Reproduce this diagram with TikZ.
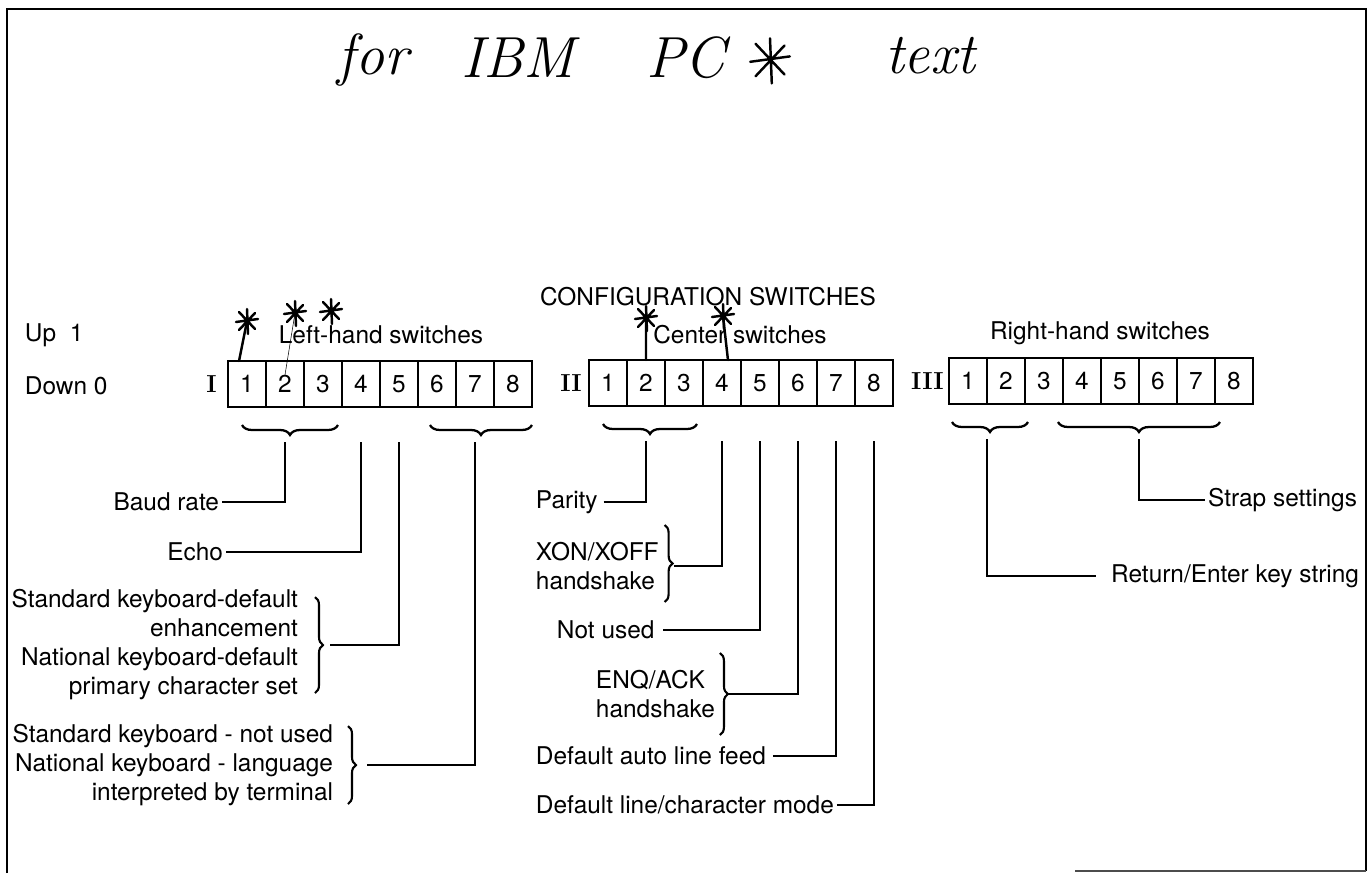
\documentclass[tikz,border=0pt]{standalone}
\usepackage{fontspec}
\setsansfont{TeX Gyre Heros}
\usepackage{tikz}
\usetikzlibrary{positioning,calc,decorations.pathreplacing}
\newcommand{\lblfont}{\sffamily\fontsize{13.9}{16.5}\selectfont}
\newcommand{\handfont}{\rmfamily\itshape\fontsize{33}{33}\selectfont}
\newcommand{\romfont}{\rmfamily\bfseries\fontsize{14}{14}\selectfont}

\begin{document}
\begin{tikzpicture}[
    x=0.02cm, y=-0.02cm,
    lbl/.style={font=\lblfont, inner xsep=1.5pt, inner ysep=0pt},
    sw/.style={draw, line width=0.8pt, minimum width=0.76cm, minimum height=0.92cm, inner sep=0pt, outer sep=0pt, font=\lblfont},
    rom/.style={font=\romfont, inner sep=0pt},
    lead/.style={line width=0.7pt},
    hbrace/.style={decorate, decoration={brace, amplitude=0.2cm}, line width=1.3pt},
    vbrace/.style={decorate, decoration={brace, amplitude=0.16cm}, line width=1.2pt},
    ink/.style={line width=1.4pt, line cap=round},
    hstar/.pic={\draw[ink] (-11,1) -- (11,-2) (0,-12) -- (1,13) (-8,-9) -- (8,8) (-8,9) -- (8,-8);}
]
    \useasboundingbox (0,0) rectangle (1370,873);
    \draw[line width=1.5pt] (7,873) -- (7,9) -- (1366,9) -- (1366,871);
    \draw[line width=1pt, black!70] (1366,871) -- (1075,871);

    % handwritten note
    \node[font=\handfont] (hfor) at (373,60) {for};
    \node[font=\handfont] (hibm) at (518,58) {IBM};
    \node[font=\handfont] (hpc) at (686,58) {PC};
    \coordinate (hstar) at (770,60);
    \pic[scale=1.8] at (hstar) {hstar};
    \node[font=\handfont] (htext) at (930,56) {text};

    % switch rows
    \node[sw] (L1) at (247,384) {1};
    \foreach \i [remember=\i as \j (initially 1)] in {2,...,8}
        \node[sw, right=0pt of L\j] (L\i) {\i};
    \node[sw] (C1) at (608,383) {1};
    \foreach \i [remember=\i as \j (initially 1)] in {2,...,8}
        \node[sw, right=0pt of C\j] (C\i) {\i};
    \node[sw] (R1) at (968,381) {1};
    \foreach \i [remember=\i as \j (initially 1)] in {2,...,8}
        \node[sw, right=0pt of R\j] (R\i) {\i};

    \node[rom, left=0.22cm of L1] (rI) {I};
    \node[rom, left=0.14cm of C1] (rII) {II};
    \node[rom, left=0.1cm of R1] (rIII) {III};

    \node[lbl] (cfg) at (708,297) {CONFIGURATION SWITCHES};
    \node[lbl] (lhs) at (381,335) {Left-hand switches};
    \node[lbl] (chs) at (740,335) {Center switches};
    \node[lbl] (rhs) at (1100,333) {Right-hand switches};
    \node[lbl, anchor=west] (up) at (22,335) {Up\ \ 1};
    \node[lbl, anchor=west] (down) at (22,386) {Down 0};

    % handwritten marks
    \coordinate (st1) at (247,321);
    \coordinate (st2) at (295,313);
    \coordinate (st3) at (331,311);
    \coordinate (st4) at (646,318);
    \coordinate (st5) at (723,316);
    \foreach \s in {st1,st2,st3,st4,st5}
        \pic at (\s) {hstar};
    \draw[ink] (st1) -- ([xshift=-0.16cm]L1.north);
    \draw[line width=0.3pt] (st2) -- ([yshift=-0.28cm]L2.north);
    \draw[ink] (st4) -- (C2.north);
    \draw[ink] (st5) -- ([xshift=0.12cm]C4.north);

    % brace tips
    \coordinate (tL13) at ($(L2.south)+(0,35)$);
    \coordinate (tL4) at ($(L4.south)+(0,35)$);
    \coordinate (tL5) at ($(L5.south)+(0,35)$);
    \coordinate (tL68) at ($(L7.south)+(0,35)$);
    \coordinate (tC13) at ($(C2.south)+(0,35)$);
    \foreach \i in {4,...,8}
        \coordinate (tC\i) at ($(C\i.south)+(0,35)$);
    \coordinate (tR12) at ($(R1.south)!0.5!(R2.south)+(0,35)$);
    \coordinate (tR47) at ($(R5.south)!0.5!(R6.south)+(0,35)$);

    \draw[hbrace] ($(L3.south east)+(-4,18)$) -- ($(L1.south west)+(14,18)$);
    \draw[hbrace] ($(L8.south east)+(0,18)$) -- ($(L6.south west)+(12,18)$);
    \draw[hbrace] ($(C3.south east)+(-6,18)$) -- ($(C1.south west)+(14,18)$);
    \draw[hbrace] ($(R2.south east)+(3,18)$) -- ($(R1.south west)+(3,18)$);
    \draw[hbrace] ($(R7.south east)+(5,18)$) -- ($(R4.south west)+(-5,18)$);

    % left-hand labels
    \node[lbl, anchor=east] (baud) at (222,502) {Baud rate};
    \node[lbl, anchor=east] (echo) at (226,552) {Echo};
    \node[lbl, anchor=east, align=right] (stdkbd) at (301,645) {Standard keyboard-default\\enhancement\\National keyboard-default\\primary character set};
    \node[lbl, anchor=east, align=right] (natkbd) at (336,765) {Standard keyboard - not used\\National keyboard - language\\interpreted by terminal};

    \draw[lead] (baud.east) -| (tL13);
    \draw[lead] (echo.east) -| (tL4);
    \draw[vbrace] ($(stdkbd.east)+(14,-48)$) -- ($(stdkbd.east)+(14,48)$);
    \draw[lead] ($(stdkbd.east)+(29,0)$) -| (tL5);
    \draw[vbrace] ($(natkbd.east)+(12,-39)$) -- ($(natkbd.east)+(12,39)$);
    \draw[lead] ($(natkbd.east)+(31,0)$) -| (tL68);

    % center labels
    \node[lbl, anchor=west] (parity) at (533,502) {Parity};
    \node[lbl, anchor=west, align=left] (xon) at (533,566) {XON/XOFF\\handshake};
    \node[lbl, anchor=west] (notused) at (554,630) {Not used};
    \node[lbl, anchor=west, align=left] (enq) at (593,694) {ENQ/ACK\\handshake};
    \node[lbl, anchor=west] (autolf) at (533,756) {Default auto line feed};
    \node[lbl, anchor=west] (lcmode) at (533,805) {Default line/character mode};

    \draw[lead] ($(parity.east)+(3,0)$) -| (tC13);
    \draw[vbrace] ($(xon.east)+(3,-41)$) -- ($(xon.east)+(3,36)$);
    \draw[lead] ($(xon.east)+(12,0)$) -| (tC4);
    \draw[lead] ($(notused.east)+(6,0)$) -| (tC5);
    \draw[vbrace] ($(enq.east)+(2,-41)$) -- ($(enq.east)+(2,41)$);
    \draw[lead] ($(enq.east)+(10,0)$) -| (tC6);
    \draw[lead] ($(autolf.east)+(4,0)$) -| (tC7);
    \draw[lead] (lcmode.east) -| (tC8);

    % right-hand labels
    \node[lbl, anchor=east] (strap) at (1360,500) {Strap settings};
    \node[lbl, anchor=east] (retkey) at (1362,576) {Return/Enter key string};
    \draw[lead] (tR47) |- (strap.west);
    \draw[lead] (tR12) |- ($(retkey.west)+(-12,0)$);
\end{tikzpicture}
\end{document}
